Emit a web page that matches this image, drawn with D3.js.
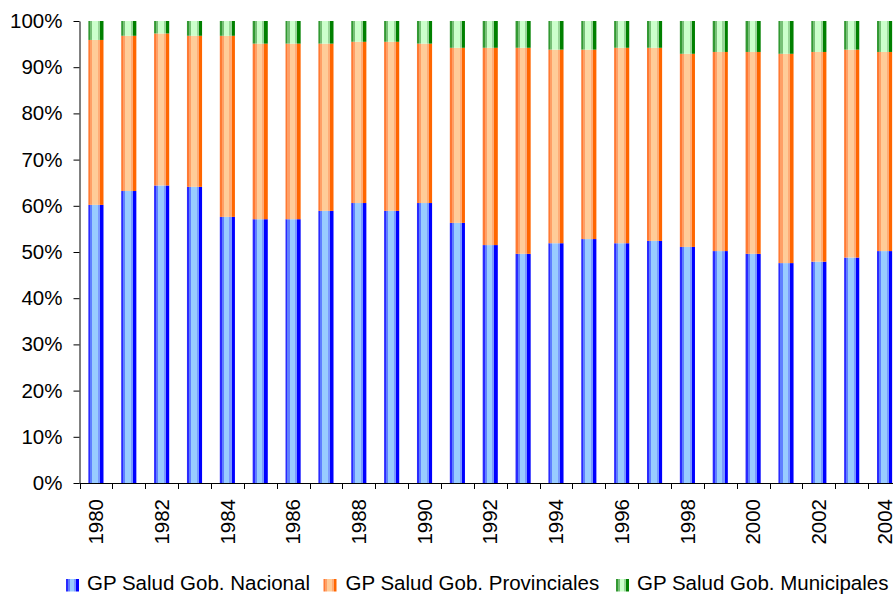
<!DOCTYPE html>
<html>
<head>
<meta charset="utf-8">
<script src="https://cdn.jsdelivr.net/npm/d3@7"></script>
<style>
  body { margin: 0; background: #fff; }
  svg { display: block; }
  text { font-family: Arial, "Liberation Sans", sans-serif; fill: #000; }
</style>
</head>
<body>
<svg id="chart" width="893" height="594"></svg>
<script>
// Public health spending share by level of government (% of total)
const years = ["1980","1981","1982","1983","1984","1985","1986","1987","1988","1989",
               "1990","1991","1992","1993","1994","1995","1996","1997","1998","1999",
               "2000","2001","2002","2003","2004"];
const nacional     = [60.2,63.2,64.4,64.1,57.6,57.1,57.1,58.9,60.6,58.9,60.6,56.3,51.5,49.6,51.9,52.8,51.9,52.4,51.1,50.2,49.6,47.6,47.9,48.8,50.2];
const provinciales = [35.7,33.6,32.9,32.7,39.2,38.0,38.0,36.2,34.9,36.6,34.5,37.9,42.7,44.6,41.9,41.0,42.3,41.8,41.8,43.1,43.7,45.3,45.4,45.0,43.1];
const municipales  = [4.1,3.2,2.7,3.2,3.2,4.9,4.9,4.9,4.5,4.5,4.9,5.8,5.8,5.8,6.2,6.2,5.8,5.8,7.1,6.7,6.7,7.1,6.7,6.2,6.7];
const seriesKeys   = ["nacional","provinciales","municipales"];
const seriesNames  = ["GP Salud Gob. Nacional","GP Salud Gob. Provinciales","GP Salud Gob. Municipales"];
const yTickValues  = [0,10,20,30,40,50,60,70,80,90,100];
const xTickLabels  = ["1980","1982","1984","1986","1988","1990","1992","1994","1996","1998","2000","2002","2004"];

// banded cylinder-like fills: left edge, inner left, centre highlight, inner right, right edge
const bandColors = {
  nacional:     ["#2a2aff","#5f7fff","#99ccff","#7a99ff","#0000ff"],
  provinciales: ["#ff7a33","#ff9f66","#ffcc99","#ffac77","#ff6600"],
  municipales:  ["#339933","#77c077","#ccffcc","#99d699","#008000"]
};
const bandStops = [0, 0.13, 0.27, 0.64, 0.78, 1];

const rows = years.map((yr, i) => ({
  year: yr, nacional: nacional[i], provinciales: provinciales[i], municipales: municipales[i]
}));
const stacked = d3.stack().keys(seriesKeys)(rows);

const svg = d3.select("#chart");
const plotLeft = 79.5, step = 32.86, plotBottom = 483, plotTop = 21;

const x = d3.scaleBand()
  .domain(years)
  .range([plotLeft, plotLeft + step * years.length])
  .paddingInner(0.54)
  .paddingOuter(0.27);
const y = d3.scaleLinear().domain([0, 100]).range([plotBottom, plotTop]);

// gradients
const defs = svg.append("defs");
seriesKeys.forEach(k => {
  const g = defs.append("linearGradient").attr("id", "grad-" + k)
    .attr("x1", "0").attr("x2", "1").attr("y1", "0").attr("y2", "0");
  bandColors[k].forEach((c, j) => {
    g.append("stop").attr("offset", bandStops[j]).attr("stop-color", c);
    g.append("stop").attr("offset", bandStops[j + 1]).attr("stop-color", c);
  });
});

// bars
svg.append("g").selectAll("g")
  .data(stacked)
  .join("g")
  .attr("fill", d => `url(#grad-${d.key})`)
  .selectAll("rect")
  .data(d => d)
  .join("rect")
  .attr("x", d => x(d.data.year))
  .attr("width", x.bandwidth())
  .attr("y", d => y(d[1]))
  .attr("height", d => y(d[0]) - y(d[1]));

// y axis
const yAxis = svg.append("g")
  .attr("transform", `translate(${plotLeft},0)`)
  .call(d3.axisLeft(y).tickValues(yTickValues).tickFormat(d => d + "%")
    .tickSize(6).tickSizeOuter(0).tickPadding(11));
yAxis.selectAll("text").style("font-size", "20.5px");
yAxis.selectAll("line, path").attr("stroke", "#000");

// x axis line and boundary ticks
const xg = svg.append("g");
xg.append("line")
  .attr("x1", plotLeft).attr("x2", 893)
  .attr("y1", plotBottom + 0.5).attr("y2", plotBottom + 0.5)
  .attr("stroke", "#000");
const boundaries = years.map(yr => x(yr) - x.step() * x.paddingOuter());
xg.selectAll(".tk")
  .data(boundaries)
  .join("line")
  .attr("class", "tk")
  .attr("x1", d => Math.round(d) + 0.5).attr("x2", d => Math.round(d) + 0.5)
  .attr("y1", plotBottom).attr("y2", plotBottom + 6)
  .attr("stroke", "#000");

// rotated year labels
xg.selectAll(".lbl")
  .data(xTickLabels)
  .join("text")
  .attr("class", "lbl")
  .attr("transform", d => `translate(${x(d) + x.bandwidth() / 2},499) rotate(-90)`)
  .attr("text-anchor", "end")
  .attr("dy", "0.35em")
  .style("font-size", "20.5px")
  .text(d => d);

// legend
const legendX = [66, 323.5, 616];
const textX = [87, 345.5, 637];
const legend = svg.append("g");
seriesKeys.forEach((k, i) => {
  legend.append("rect")
    .attr("x", legendX[i]).attr("y", 579)
    .attr("width", 13).attr("height", 12.5)
    .attr("fill", `url(#grad-${k})`);
  legend.append("text")
    .attr("x", textX[i]).attr("y", 590)
    .style("font-size", "20.5px")
    .text(seriesNames[i]);
});
</script>
</body>
</html>
